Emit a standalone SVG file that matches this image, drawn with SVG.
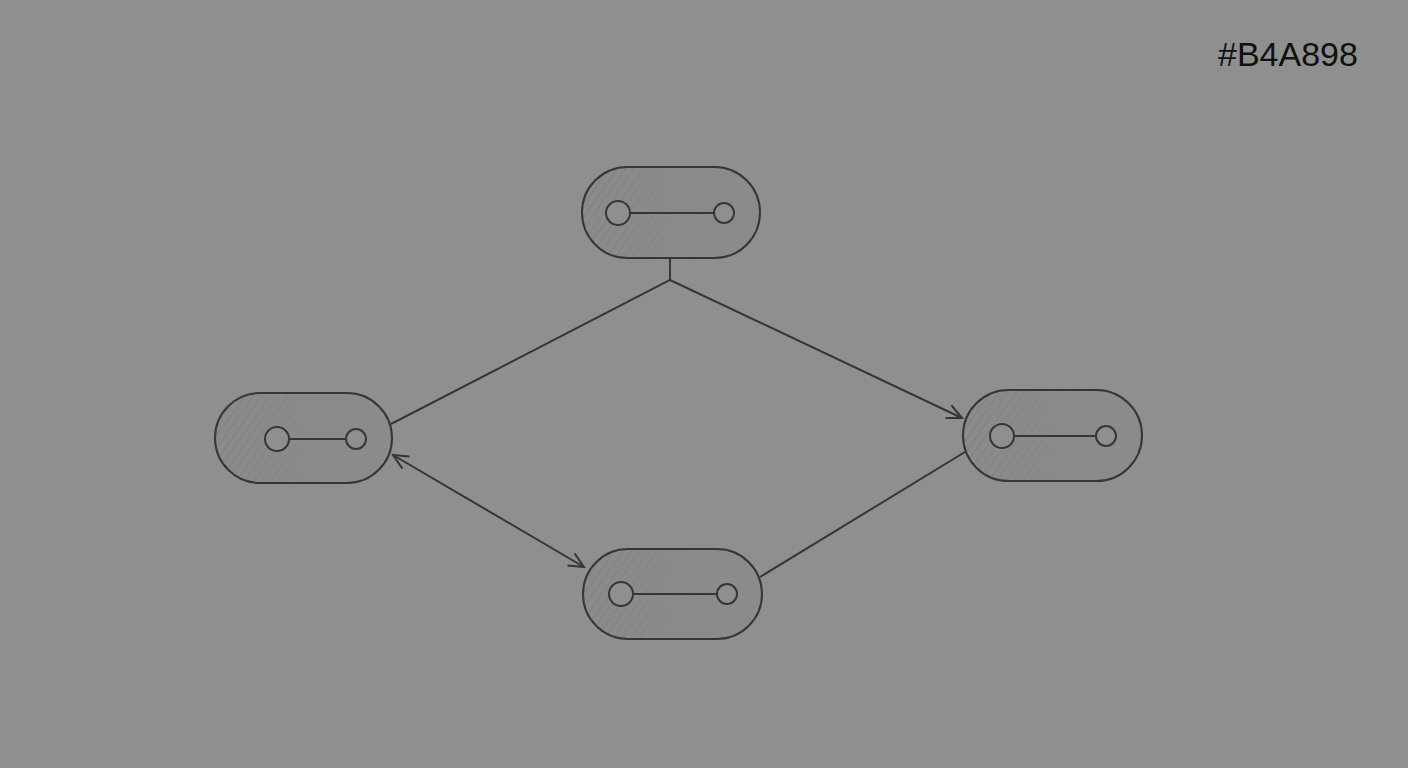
<svg xmlns="http://www.w3.org/2000/svg" width="1408" height="768" viewBox="0 0 1408 768">
<defs>
<style>
.node{fill:#8b8b8b;stroke:#363636;stroke-width:2}
.hatch{fill:url(#hatch);stroke:none}
.dot{fill:#8f8f8f;stroke:#363636;stroke-width:2}
.bar{stroke:#363636;stroke-width:2}
.conn{fill:none;stroke:#363636;stroke-width:2}
.lbl{font-family:"Liberation Sans",Arial,sans-serif;font-size:34px;fill:#111}
</style>
<pattern id="hatch" width="7" height="7" patternUnits="userSpaceOnUse" patternTransform="rotate(35)">
<line x1="0" y1="0" x2="0" y2="7" stroke="#5a5a5a" stroke-width="0.8" stroke-opacity="0.5"/>
</pattern>
<linearGradient id="fade" x1="0" y1="0" x2="1" y2="0">
<stop offset="0" stop-color="#fff" stop-opacity="1"/>
<stop offset="0.7" stop-color="#fff" stop-opacity="0.1"/>
<stop offset="1" stop-color="#fff" stop-opacity="0"/>
</linearGradient>
<mask id="m" maskContentUnits="objectBoundingBox">
<rect width="1" height="1" fill="url(#fade)"/>
</mask>
<marker id="arr" viewBox="0 0 20 20" refX="18" refY="10" markerWidth="20" markerHeight="20" markerUnits="userSpaceOnUse" orient="auto-start-reverse">
<path d="M3,3 L18,10 L3,17" fill="none" stroke="#363636" stroke-width="2"/>
</marker>
</defs>
<rect width="1408" height="768" fill="#8f8f8f"/>
<text class="lbl" x="1218" y="66">#B4A898</text>
<g id="connectors">
<path class="conn" d="M670,258 L670,280 L391,424"/>
<path class="conn" d="M670,280 L962,418" marker-end="url(#arr)"/>
<path class="conn" d="M393,455 L584,567" marker-start="url(#arr)" marker-end="url(#arr)"/>
<path class="conn" d="M760,577 L965,452"/>
</g>
<g id="node-top">
<rect class="node" x="582" y="167" width="178" height="91" rx="45.5"/>
<rect class="hatch" x="582" y="167" width="178" height="91" rx="45.5" mask="url(#m)"/>
<line class="bar" x1="630" y1="213" x2="714" y2="213"/>
<circle class="dot" cx="618" cy="213" r="12"/>
<circle class="dot" cx="724" cy="213" r="10"/>
</g>
<g id="node-left">
<rect class="node" x="215" y="393" width="177" height="90" rx="45"/>
<rect class="hatch" x="215" y="393" width="177" height="90" rx="45" mask="url(#m)"/>
<line class="bar" x1="289" y1="439" x2="346" y2="439"/>
<circle class="dot" cx="277" cy="439" r="12"/>
<circle class="dot" cx="356" cy="439" r="10"/>
</g>
<g id="node-right">
<rect class="node" x="963" y="390" width="179" height="91" rx="45.5"/>
<rect class="hatch" x="963" y="390" width="179" height="91" rx="45.5" mask="url(#m)"/>
<line class="bar" x1="1014" y1="436" x2="1096" y2="436"/>
<circle class="dot" cx="1002" cy="436" r="12"/>
<circle class="dot" cx="1106" cy="436" r="10"/>
</g>
<g id="node-bottom">
<rect class="node" x="583" y="549" width="179" height="90" rx="45"/>
<rect class="hatch" x="583" y="549" width="179" height="90" rx="45" mask="url(#m)"/>
<line class="bar" x1="633" y1="594" x2="717" y2="594"/>
<circle class="dot" cx="621" cy="594" r="12"/>
<circle class="dot" cx="727" cy="594" r="10"/>
</g>
</svg>
